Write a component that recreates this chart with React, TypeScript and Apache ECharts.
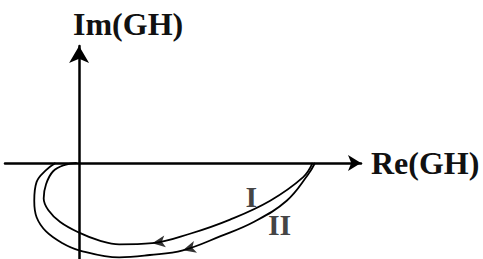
import React, { useEffect, useRef } from "react";
import * as echarts from "echarts";

// Nyquist-type loci (Re, Im), unit = distance from origin to the loop's tip
const curveI: [number, number][] = [
  [0.99, 0], [0.95, -0.06], [0.81, -0.16], [0.64, -0.24], [0.47, -0.3],
  [0.31, -0.34], [0.17, -0.345], [0.09, -0.33], [0, -0.295], [-0.08, -0.25],
  [-0.13, -0.2], [-0.15, -0.15], [-0.14, -0.09], [-0.11, -0.035], [-0.06, -0.008], [-0.01, 0],
];
const curveII: [number, number][] = [
  [1.0, 0], [0.97, -0.05], [0.88, -0.16], [0.74, -0.25], [0.6, -0.31],
  [0.44, -0.37], [0.3, -0.39], [0.17, -0.4], [0, -0.37], [-0.07, -0.34],
  [-0.14, -0.29], [-0.18, -0.23], [-0.19, -0.16], [-0.18, -0.08], [-0.14, -0.03], [-0.1, 0],
];
const arrowPoints: [number, number, number][] = [
  [0.31, -0.34, 98],
  [0.44, -0.37, 105],
];
const curveLabels = ["I", "II"];
const curveLabelPos: [number, number][] = [
  [0.73, -0.14],
  [0.85, -0.26],
];
const xName = "Re(GH)";
const yName = "Im(GH)";

const FONT = "'Liberation Serif', 'Times New Roman', serif";

export default function App() {
  const ref = useRef<HTMLDivElement>(null);
  useEffect(() => {
    if (!ref.current) return;
    const chart = echarts.init(ref.current, undefined, { renderer: "svg" });
    chart.setOption({
      animation: false,
      backgroundColor: "#ffffff",
      grid: { left: 5, right: 122, top: 46, bottom: 0 },
      xAxis: {
        type: "value",
        min: -0.314,
        max: 1.195,
        name: xName,
        nameLocation: "end",
        nameGap: 10,
        nameTextStyle: { fontFamily: FONT, fontWeight: "bold", fontSize: 32, color: "#111", verticalAlign: "middle", padding: [0, 0, 13, 0] },
        axisLine: { onZero: true, symbol: ["none", "arrow"], symbolSize: [12, 13], lineStyle: { color: "#000", width: 2.5 } },
        axisTick: { show: false },
        axisLabel: { show: false },
        splitLine: { show: false },
      },
      yAxis: {
        type: "value",
        min: -0.407,
        max: 0.496,
        name: yName,
        nameLocation: "end",
        nameGap: 6,
        nameTextStyle: { fontFamily: FONT, fontWeight: "bold", fontSize: 32, color: "#111", align: "center", verticalAlign: "bottom", padding: [0, 0, 0, 98] },
        axisLine: { onZero: true, symbol: ["none", "arrow"], symbolSize: [15, 17], lineStyle: { color: "#000", width: 2.5 } },
        axisTick: { show: false },
        axisLabel: { show: false },
        splitLine: { show: false },
      },
      series: [
        {
          type: "line",
          data: curveI,
          smooth: 0.4,
          symbol: "none",
          lineStyle: { color: "#000", width: 1.8 },
          clip: false,
        },
        {
          type: "line",
          data: curveII,
          smooth: 0.4,
          symbol: "none",
          lineStyle: { color: "#000", width: 1.8 },
          clip: false,
        },
        {
          type: "scatter",
          data: arrowPoints.map((p) => ({ value: [p[0], p[1]], symbolRotate: p[2] })),
          symbol: "arrow",
          symbolSize: [9, 13],
          itemStyle: { color: "#000" },
          clip: false,
        },
        {
          type: "scatter",
          data: curveLabelPos.map((p, i) => ({ value: p, name: curveLabels[i] })),
          symbolSize: 0,
          label: {
            show: true,
            position: "inside",
            formatter: (p: any) => p.name,
            fontFamily: FONT,
            fontWeight: "bold",
            fontSize: 30,
            color: "#111",
          },
          clip: false,
        },
      ],
    });
    return () => chart.dispose();
  }, []);
  return <div ref={ref} style={{ position: "absolute", left: 0, top: 0, width: 483, height: 259 }} />;
}
